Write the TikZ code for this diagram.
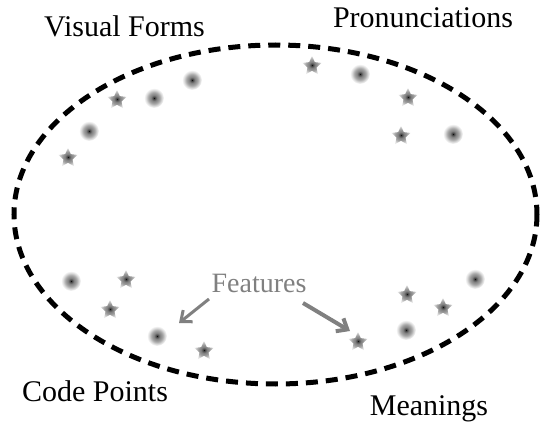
\documentclass[tikz,border=0pt]{standalone}
\usepackage{fontspec}
\setmainfont{Liberation Serif}
\usetikzlibrary{shapes.geometric,arrows.meta}
\pgfdeclareradialshading{dotshade}{\pgfpoint{0bp}{0bp}}{color(0bp)=(black!95); color(2bp)=(black!75); color(7bp)=(black!50); color(14bp)=(black!35); color(20bp)=(black!14); color(25bp)=(white); color(50bp)=(white)}
\pgfdeclareradialshading{starshade}{\pgfpoint{0bp}{0bp}}{color(0bp)=(black!95); color(3bp)=(black!70); color(8bp)=(black!50); color(15bp)=(black!38); color(21bp)=(black!22); color(25bp)=(black!10); color(50bp)=(white)}
\tikzset{
  region/.style={font=\fontsize{30}{36}\selectfont, anchor=base, inner sep=0pt},
  featlabel/.style={font=\fontsize{28}{34}\selectfont, anchor=base, inner sep=0pt, text=black!50},
  dotpt/.style={circle, minimum size=20pt, inner sep=0pt, shading=dotshade},
  starpt/.style={star, star points=5, star point ratio=2.1, minimum size=20pt, inner sep=0pt, shading=starshade},
  featarrow/.style={draw=black!50, -{Straight Barb[length=9pt,width=15pt]}},
  boundary/.style={draw=black, line width=5pt, dash pattern=on 12pt off 8pt}
}
\begin{document}
\begin{tikzpicture}[x=1pt,y=-1pt]
\useasboundingbox (0,0) rectangle (542,428);
\draw[boundary] (275.5,214.5) ellipse [x radius=261.5, y radius=169.5];
% labels
\node[region] (vf) at (124.5,37) {Visual Forms};
\node[region] (pr) at (423,28) {Pronunciations};
\node[region] (cp) at (95,401) {Code Points};
\node[region] (me) at (429,415) {Meanings};
\node[featlabel] (feat) at (259,292) {Features};
% dots
\node[dotpt] (d1) at (192,80) {};
\node[dotpt] (d2) at (154,98) {};
\node[dotpt] (d3) at (89,131) {};
\node[dotpt] (d4) at (360,74) {};
\node[dotpt] (d5) at (453,134) {};
\node[dotpt] (d6) at (71,281) {};
\node[dotpt] (d7) at (157,336) {};
\node[dotpt] (d8) at (475,279) {};
\node[dotpt] (d9) at (406,330) {};
% stars
\node[starpt] (s1) at (117,100) {};
\node[starpt] (s2) at (68,158) {};
\node[starpt] (s3) at (312,66) {};
\node[starpt] (s4) at (408,98) {};
\node[starpt] (s5) at (401,136) {};
\node[starpt] (s6) at (126,280) {};
\node[starpt] (s7) at (110,310) {};
\node[starpt] (s8) at (204,351) {};
\node[starpt] (s9) at (407,295) {};
\node[starpt] (s10) at (443,308) {};
\node[starpt] (s11) at (358,342) {};
% arrows
\coordinate (a1s) at (209,299);
\coordinate (a1e) at (179,323);
\coordinate (a2s) at (303,303);
\coordinate (a2e) at (350,331);
\draw[featarrow, line width=3pt] (a1s) -- (a1e);
\draw[featarrow, line width=4pt] (a2s) -- (a2e);
\end{tikzpicture}
\end{document}
